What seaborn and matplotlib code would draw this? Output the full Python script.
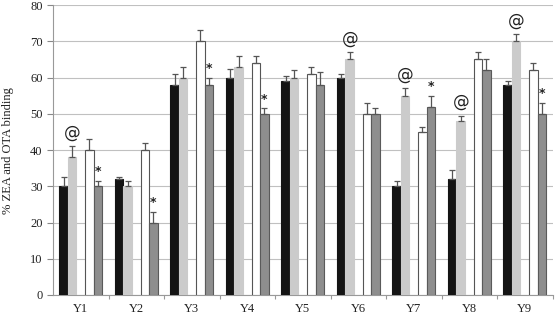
import numpy as np
import pandas as pd
import matplotlib
matplotlib.use("Agg")
import matplotlib.pyplot as plt
import seaborn as sns

groups = ["Y1", "Y2", "Y3", "Y4", "Y5", "Y6", "Y7", "Y8", "Y9"]
series_names = ["S1", "S2", "S3", "S4"]
s1_vals = [30, 32, 58, 60, 59, 60, 30, 32, 58]
s2_vals = [38, 30, 60, 63, 60, 65, 55, 48, 70]
s3_vals = [40, 40, 70, 64, 61, 50, 45, 65, 62]
s4_vals = [30, 20, 58, 50, 58, 50, 52, 62, 50]
s1_err = [2.5, 0.7, 3, 2.5, 1.5, 1, 1.5, 2.5, 1]
s2_err = [3, 1.5, 3, 3, 2, 2, 2, 1.5, 2]
s3_err = [3, 2, 3, 2, 2, 3, 1.5, 2, 2]
s4_err = [1.5, 3, 2, 1.5, 3.5, 1.5, 3, 3, 3]
s2_marks = ["@", "", "", "", "", "@", "@", "@", "@"]
s4_marks = ["*", "*", "*", "*", "", "", "*", "", "*"]
y_ticks = [0, 10, 20, 30, 40, 50, 60, 70, 80]
y_label = "% ZEA and OTA binding"

vals = [s1_vals, s2_vals, s3_vals, s4_vals]
errs = [s1_err, s2_err, s3_err, s4_err]
marks = [None, s2_marks, None, s4_marks]

rows = []
for name, v, e in zip(series_names, vals, errs):
    for g, vv, ee in zip(groups, v, e):
        rows.append({"group": g, "series": name, "value": vv, "err": ee})
df = pd.DataFrame(rows)

sns.set_style("white")
plt.rcParams["font.family"] = ["Liberation Serif", "DejaVu Serif"]

fig = plt.figure(figsize=(5.55, 3.21), dpi=100)
ax = fig.add_axes([0.0955, 0.081, 0.9, 0.903])

hue_order = ["S1", "S2", "gap", "S3", "S4"]
palette = {"S1": "#141414", "S2": "#cbcbcb", "gap": "#ffffff", "S3": "#ffffff", "S4": "#8e8e8e"}
sns.barplot(data=df, x="group", y="value", hue="series", hue_order=hue_order,
            order=groups, palette=palette, width=0.77, errorbar=None,
            legend=False, ax=ax, saturation=1, zorder=3)

edge = {"S1": "#141414", "S2": "#cbcbcb", "S3": "#555555", "S4": "#5a5a5a"}
patches = [p for p in ax.patches if np.isfinite(p.get_height()) and p.get_height() > 0]
for p in patches:
    cx = p.get_x() + p.get_width() / 2
    gi = int(round(cx))
    off = cx - gi
    slot = int(round(off / p.get_width())) + 2  # 0..4
    name = hue_order[slot]
    si = series_names.index(name)
    p.set_edgecolor(edge[name])
    p.set_linewidth(0.8)
    top = vals[si][gi]
    e = errs[si][gi]
    ax.errorbar(cx, top, yerr=[[0], [e]], fmt="none", ecolor="#555555",
                elinewidth=0.9, capsize=2.5, capthick=0.9, zorder=4)
    if marks[si] is not None and marks[si][gi]:
        m = marks[si][gi]
        if m == "@":
            ax.text(cx, top + e + 1.3, m, ha="center", va="bottom", fontsize=12,
                    family=["DejaVu Sans"], color="#222222", zorder=5)
        else:
            ax.text(cx, top + e + 0.8, m, ha="center", va="bottom", fontsize=9,
                    family=["DejaVu Sans"], fontweight="bold", color="#222222", zorder=5)

ax.set_ylim(0, 80)
ax.set_xlim(-0.5, len(groups) - 0.5)
ax.set_yticks(y_ticks)
ax.yaxis.grid(True, color="#c0c0c0", linewidth=0.8, zorder=0)
ax.set_axisbelow(True)
ax.set_xlabel("")
ax.set_ylabel(y_label, fontsize=9, color="#222222")
ax.yaxis.set_label_coords(-0.079, 0.5)
ax.tick_params(axis="y", labelsize=9, length=4, width=0.8, color="#888888", left=True, labelcolor="#222222")
ax.tick_params(axis="x", which="major", labelsize=9, length=0, labelcolor="#222222", pad=6)
ax.set_xticks(np.arange(len(groups)) + 0.5, minor=True)
ax.tick_params(axis="x", which="minor", length=3, width=0.8, color="#999999", bottom=True)
for s in ["top", "right"]:
    ax.spines[s].set_visible(False)
for s in ["left", "bottom"]:
    ax.spines[s].set_color("#999999")
    ax.spines[s].set_linewidth(0.8)

fig.savefig("out.png", dpi=100)
